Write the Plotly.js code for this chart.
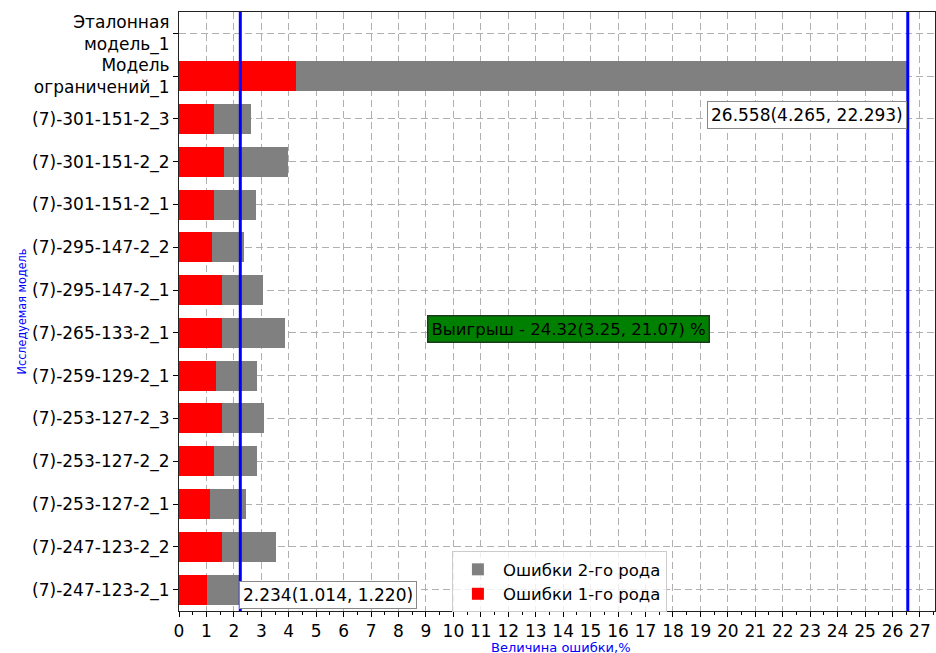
<!DOCTYPE html>
<html><head><meta charset="utf-8">
<script src="https://cdn.plot.ly/plotly-3.0.1.min.js"></script>
<style>html,body{margin:0;padding:0;background:#fff;}#chart{width:936px;height:653px;}</style>
</head><body><div id="chart"></div>
<script>
const models = ["Эталонная<br>модель_1","Модель<br>ограничений_1","(7)-301-151-2_3","(7)-301-151-2_2","(7)-301-151-2_1","(7)-295-147-2_2","(7)-295-147-2_1","(7)-265-133-2_1","(7)-259-129-2_1","(7)-253-127-2_3","(7)-253-127-2_2","(7)-253-127-2_1","(7)-247-123-2_2","(7)-247-123-2_1"];
const err1 = [0, 4.265, 1.26, 1.64, 1.29, 1.20, 1.56, 1.56, 1.35, 1.58, 1.28, 1.12, 1.58, 1.014];
const err2 = [0, 22.293, 1.38, 2.34, 1.53, 1.17, 1.49, 2.29, 1.49, 1.52, 1.58, 1.31, 1.95, 1.220];
const refLines = [2.234, 26.558];
const labelMax = "26.558(4.265, 22.293)";
const labelMin = "2.234(1.014, 1.220)";
const labelGain = "Выигрыш - 24.32(3.25, 21.07) %";
const xTitle = "Величина ошибки,%";
const yTitle = "Исследуемая модель";
const xTicks = [0,1,2,3,4,5,6,7,8,9,10,11,12,13,14,15,16,17,18,19,20,21,22,23,24,25,26,27];

const font = "DejaVu Sans, Liberation Sans, sans-serif";
const traces = [
  {type:'bar', orientation:'h', name:'Ошибки 1-го рода', y:models, x:err1, marker:{color:'#ff0000'}, width:0.7},
  {type:'bar', orientation:'h', name:'Ошибки 2-го рода', y:models, x:err2, marker:{color:'#808080'}, width:0.7}
];
const shapes = refLines.map(v => ({type:'line', xref:'x', yref:'paper', x0:v, x1:v, y0:0, y1:1, line:{color:'#0000ff', width:3}, layer:'above'}));
const layout = {
  width:936, height:653,
  margin:{l:179, r:1, t:12, b:42},
  paper_bgcolor:'#fff', plot_bgcolor:'#fff',
  barmode:'stack',
  font:{family:font, size:17, color:'#000'},
  showlegend:true,
  legend:{traceorder:'reversed', x:0.361, y:0.1, xanchor:'left', yanchor:'top', bgcolor:'rgba(255,255,255,0.8)', bordercolor:'#cccccc', borderwidth:1, font:{size:16.5}, itemwidth:40, tracegroupgap:0},
  xaxis:{range:[0,27.55], tickvals:xTicks, ticktext:xTicks.map(String), ticks:'outside', ticklen:5, tickcolor:'#000',
    minor:{dtick:0.5, ticks:'outside', ticklen:3, tickcolor:'#000', showgrid:false},
    showgrid:true, gridcolor:'#b0b0b0', griddash:'7px,4px', gridwidth:1,
    showline:true, linecolor:'#222', linewidth:1, mirror:true, zeroline:false, tickfont:{size:17}},
  yaxis:{type:'category', categoryorder:'array', categoryarray:models, range:[13.5,-0.5],
    ticks:'outside', ticklen:5, tickcolor:'#000', showgrid:true, gridcolor:'#b0b0b0', griddash:'7px,4px', gridwidth:1,
    showline:true, linecolor:'#222', linewidth:1, mirror:true, zeroline:false,
    title:{text:yTitle, font:{size:12.5, color:'#0000ff', family:'DejaVu Sans Condensed, DejaVu Sans, sans-serif'}, standoff:2}, tickfont:{size:17}},
  shapes:shapes,
  annotations:[
    {xref:'paper', yref:'paper', x:0.505, y:0, xanchor:'center', yanchor:'top', yshift:-27, text:xTitle, showarrow:false, font:{size:13, color:'#0000ff'}},
    {xref:'x', yref:'y', x:26.52, y:1.91, xanchor:'right', yanchor:'middle', text:labelMax, showarrow:false, bgcolor:'#fff', bordercolor:'#888', borderwidth:1, borderpad:3, font:{size:17}},
    {xref:'x', yref:'y', x:2.18, y:13.12, xanchor:'left', yanchor:'middle', text:labelMin, showarrow:false, bgcolor:'#fff', bordercolor:'#888', borderwidth:1, borderpad:3, font:{size:17}},
    {xref:'x', yref:'y', x:9.04, y:6.91, xanchor:'left', yanchor:'middle', text:labelGain, showarrow:false, bgcolor:'#008000', bordercolor:'#1a3a1a', borderwidth:1.5, borderpad:3, font:{size:16.5, color:'#000'}}
  ]
};
Plotly.newPlot('chart', traces, layout, {displayModeBar:false, staticPlot:true});
</script></body></html>
